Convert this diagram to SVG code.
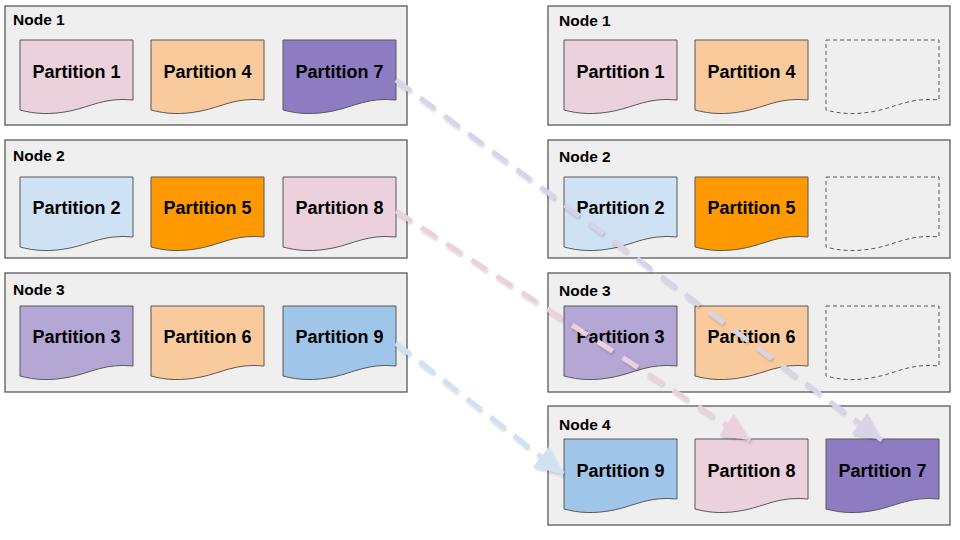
<svg xmlns="http://www.w3.org/2000/svg" xmlns:xlink="http://www.w3.org/1999/xlink" width="960" height="540" viewBox="0 0 960 540">
<style>
.box{fill:#efefef;stroke:#595959;stroke-width:1.3}
.doc{stroke:#595959;stroke-width:1}
.ph{fill:none;stroke:#595959;stroke-width:1;stroke-dasharray:4 3}
.nl{font-family:"Liberation Sans",Arial,sans-serif;font-weight:bold;font-size:15.5px;fill:#000}
.pl{font-family:"Liberation Sans",Arial,sans-serif;font-weight:bold;font-size:18px;fill:#000;text-anchor:middle}
.c{fill:none;stroke-width:5;stroke-dasharray:18 12}
</style>
<defs>
<path id="doc" d="M0,0 H113 V60 C85,57 70,67 50,71 C30,75 15,74 0,70 Z"/>
<filter id="sh" x="-10%" y="-10%" width="120%" height="120%"><feDropShadow dx="1" dy="2" stdDeviation="1.2" flood-color="#000" flood-opacity="0.18"/></filter>
<marker id="a7" markerUnits="userSpaceOnUse" markerWidth="32" markerHeight="28" refX="28" refY="13" orient="auto"><path d="M0,0 L28,13 L0,26 Z" fill="#d9d2e9"/></marker>
<marker id="a8" markerUnits="userSpaceOnUse" markerWidth="32" markerHeight="28" refX="28" refY="13" orient="auto"><path d="M0,0 L28,13 L0,26 Z" fill="#ead1dc"/></marker>
<marker id="a9" markerUnits="userSpaceOnUse" markerWidth="32" markerHeight="28" refX="28" refY="13" orient="auto"><path d="M0,0 L28,13 L0,26 Z" fill="#cfe2f3"/></marker>
</defs>
<rect width="960" height="540" fill="#fff"/>

<g id="left-node1">
<rect class="box" x="5" y="6" width="402" height="119"/>
<text class="nl" x="13" y="25">Node 1</text>
<g id="l-p1"><use href="#doc" class="doc" x="20" y="40" fill="#ead1dc"/><text class="pl" x="76.5" y="78">Partition 1</text></g>
<g id="l-p4"><use href="#doc" class="doc" x="151" y="40" fill="#f9cb9c"/><text class="pl" x="207.5" y="78">Partition 4</text></g>
<g id="l-p7"><use href="#doc" class="doc" x="283" y="40" fill="#8e7cc3"/><text class="pl" x="339.5" y="78">Partition 7</text></g>
</g>
<g id="left-node2">
<rect class="box" x="5" y="140" width="402" height="118"/>
<text class="nl" x="13" y="161">Node 2</text>
<g id="l-p2"><use href="#doc" class="doc" x="20" y="177" fill="#cfe2f3"/><text class="pl" x="76.5" y="214">Partition 2</text></g>
<g id="l-p5"><use href="#doc" class="doc" x="151" y="177" fill="#ff9900"/><text class="pl" x="207.5" y="214">Partition 5</text></g>
<g id="l-p8"><use href="#doc" class="doc" x="283" y="177" fill="#ead1dc"/><text class="pl" x="339.5" y="214">Partition 8</text></g>
</g>
<g id="left-node3">
<rect class="box" x="5" y="273" width="402" height="119"/>
<text class="nl" x="13" y="295">Node 3</text>
<g id="l-p3"><use href="#doc" class="doc" x="20" y="306" fill="#b4a7d6"/><text class="pl" x="76.5" y="343">Partition 3</text></g>
<g id="l-p6"><use href="#doc" class="doc" x="151" y="306" fill="#f9cb9c"/><text class="pl" x="207.5" y="343">Partition 6</text></g>
<g id="l-p9"><use href="#doc" class="doc" x="283" y="306" fill="#9fc5e8"/><text class="pl" x="339.5" y="343">Partition 9</text></g>
</g>

<g id="right-node1">
<rect class="box" x="548" y="6" width="402" height="119"/>
<text class="nl" x="559" y="26">Node 1</text>
<g id="r-p1"><use href="#doc" class="doc" x="564" y="40" fill="#ead1dc"/><text class="pl" x="620.5" y="78">Partition 1</text></g>
<g id="r-p4"><use href="#doc" class="doc" x="695" y="40" fill="#f9cb9c"/><text class="pl" x="751.5" y="78">Partition 4</text></g>
<g id="r-e1"><use href="#doc" class="ph" x="826" y="40"/></g>
</g>
<g id="right-node2">
<rect class="box" x="548" y="140" width="402" height="118"/>
<text class="nl" x="559" y="162">Node 2</text>
<g id="r-p2"><use href="#doc" class="doc" x="564" y="177" fill="#cfe2f3"/><text class="pl" x="620.5" y="214">Partition 2</text></g>
<g id="r-p5"><use href="#doc" class="doc" x="695" y="177" fill="#ff9900"/><text class="pl" x="751.5" y="214">Partition 5</text></g>
<g id="r-e2"><use href="#doc" class="ph" x="826" y="177"/></g>
</g>
<g id="right-node3">
<rect class="box" x="548" y="273" width="402" height="119"/>
<text class="nl" x="559" y="296">Node 3</text>
<g id="r-p3"><use href="#doc" class="doc" x="564" y="306" fill="#b4a7d6"/><text class="pl" x="620.5" y="343">Partition 3</text></g>
<g id="r-p6"><use href="#doc" class="doc" x="695" y="306" fill="#f9cb9c"/><text class="pl" x="751.5" y="343">Partition 6</text></g>
<g id="r-e3"><use href="#doc" class="ph" x="826" y="306"/></g>
</g>
<g id="right-node4">
<rect class="box" x="548" y="406" width="402" height="119"/>
<text class="nl" x="559" y="430">Node 4</text>
<g id="r-p9"><use href="#doc" class="doc" x="564" y="439" fill="#9fc5e8"/><text class="pl" x="620.5" y="477">Partition 9</text></g>
<g id="r-p8"><use href="#doc" class="doc" x="695" y="439" fill="#ead1dc"/><text class="pl" x="751.5" y="477">Partition 8</text></g>
<g id="r-p7"><use href="#doc" class="doc" x="826" y="439" fill="#8e7cc3"/><text class="pl" x="882.5" y="477">Partition 7</text></g>
</g>

<g id="connectors" filter="url(#sh)">
<path class="c" d="M396,80 L882,440" stroke="#d9d2e9" marker-end="url(#a7)"/>
<path class="c" d="M396,211 L750,440" stroke="#ead1dc" marker-end="url(#a8)"/>
<path class="c" d="M396,343 L563,474" stroke="#cfe2f3" marker-end="url(#a9)"/>
</g>
</svg>
